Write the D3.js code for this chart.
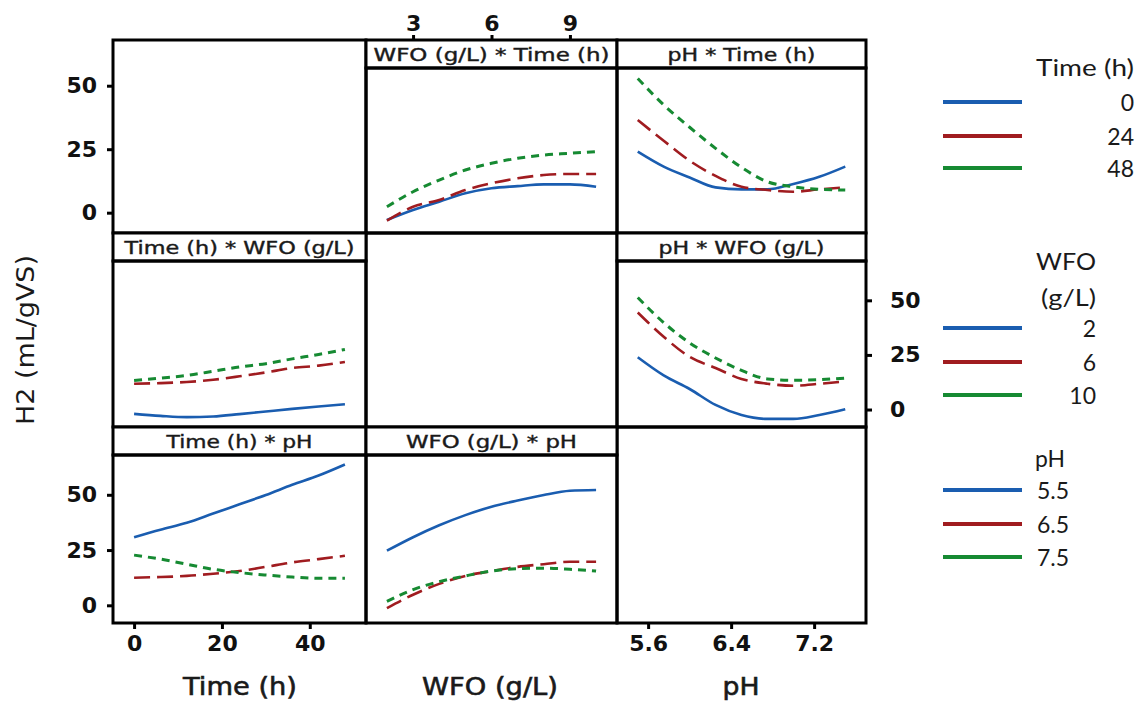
<!DOCTYPE html>
<html><head><meta charset="utf-8">
<script src="https://cdn.jsdelivr.net/npm/d3@7"></script>
<style>body{margin:0;background:#fff}svg{display:block}</style>
</head><body>
<svg id="c" width="1143" height="706"></svg>
<script>
// ---- data ----
const timeLevels = ["0", "24", "48"];
const wfoLevels = ["2", "6", "10"];
const phLevels = ["5.5", "6.5", "7.5"];
const timeGrid = [0, 6, 12, 18, 24, 30, 36, 42, 48];
const wfoGrid = [2, 3, 4, 5, 6, 7, 8, 9, 10];
const phGrid = [5.5, 5.75, 6, 6.25, 6.5, 6.75, 7, 7.25, 7.5];

const wfoTime_t0  = [-2.0, 2.6, 6.4, 10.3, 12.6, 13.6, 14.4, 14.4, 13.3];
const wfoTime_t24 = [-2.3, 4.1, 7.2, 11.8, 14.9, 17.2, 18.7, 19.2, 19.2];
const wfoTime_t48 = [4.1, 11.0, 16.4, 21.0, 24.1, 26.4, 27.9, 28.7, 29.5];
const phTime_t0  = [29.5, 22.6, 17.6, 13.0, 12.1, 12.1, 14.6, 17.9, 22.6];
const phTime_t24 = [44.0, 34.5, 25.3, 18.3, 13.3, 11.8, 11.0, 12.1, 13.0];
const phTime_t48 = [63.2, 51.0, 40.7, 31.0, 22.2, 15.6, 13.3, 12.1, 11.8];
const timeWfo_w2  = [-2.0, -2.9, -3.5, -3.2, -2.1, -0.9, 0.3, 1.4, 2.4];
const timeWfo_w6  = [11.8, 12.1, 12.6, 13.6, 15.2, 17.0, 19.0, 20.1, 21.8];
const timeWfo_w10 = [13.3, 14.4, 15.6, 17.5, 19.5, 21.0, 23.2, 25.2, 27.5];
const phWfo_w2  = [23.9, 15.6, 9.4, 2.1, -2.5, -4.3, -4.3, -2.5, 0.1];
const phWfo_w6  = [44.4, 33.3, 24.1, 19.0, 14.0, 11.8, 10.9, 11.8, 12.9];
const phWfo_w10 = [51.3, 39.8, 30.5, 23.6, 17.9, 14.0, 13.4, 13.7, 14.4];
const timePh_p55 = [30.8, 34.2, 37.3, 41.5, 45.7, 49.9, 54.5, 58.7, 63.7];
const timePh_p65 = [12.5, 12.8, 13.3, 14.3, 15.5, 17.4, 19.4, 20.9, 22.4];
const timePh_p75 = [22.7, 20.9, 18.6, 16.3, 14.8, 13.7, 12.8, 12.2, 12.2];
const wfoPh_p55 = [24.7, 30.8, 36.2, 40.8, 44.6, 47.4, 49.9, 51.8, 52.2];
const wfoPh_p65 = [-1.3, 4.8, 9.7, 13.3, 15.5, 17.4, 18.6, 19.7, 19.7];
const wfoPh_p75 = [1.8, 7.1, 10.7, 13.3, 15.5, 16.6, 16.8, 16.3, 15.5];

const yTicks = [0, 25, 50];
const timeTicks = [0, 20, 40];
const wfoTicks = [3, 6, 9];
const phTicks = [5.6, 6.4, 7.2];

// ---- layout ----
const svg = d3.select("#c");
const colors = ["#1a5db0", "#a01c20", "#168a32"];
const dashes = [null, "16,7", "8,6"];
const widths = [2.6, 2.6, 3];
const cols = [[113, 366], [366, 617], [617, 866]];
const rows = [[40, 233], [233, 427], [427, 623]];
const stripH = 28;
const yDom = [-8, 68];
const xDoms = [[-4.8, 52.8], [1.2, 10.8], [5.3, 7.7]];
const grids = [timeGrid, wfoGrid, phGrid];

const panels = [
  {r:0, c:1, title:"WFO (g/L) * Time (h)", tl:236, series:[wfoTime_t0, wfoTime_t24, wfoTime_t48]},
  {r:0, c:2, title:"pH * Time (h)", tl:148, series:[phTime_t0, phTime_t24, phTime_t48]},
  {r:1, c:0, title:"Time (h) * WFO (g/L)", tl:230, series:[timeWfo_w2, timeWfo_w6, timeWfo_w10]},
  {r:1, c:2, title:"pH * WFO (g/L)", tl:166, series:[phWfo_w2, phWfo_w6, phWfo_w10]},
  {r:2, c:0, title:"Time (h) * pH", tl:146, series:[timePh_p55, timePh_p65, timePh_p75]},
  {r:2, c:1, title:"WFO (g/L) * pH", tl:171, series:[wfoPh_p55, wfoPh_p65, wfoPh_p75]}
];

function xScale(c){ return d3.scaleLinear().domain(xDoms[c]).range(cols[c]); }
function yScale(r, strip){ return d3.scaleLinear().domain(yDom).range([rows[r][1], rows[r][0] + (strip ? stripH : 0)]); }

// empty diagonal cells
[0,1,2].forEach(i => {
  svg.append("rect").attr("x", cols[i][0]).attr("y", rows[i][0])
    .attr("width", cols[i][1]-cols[i][0]).attr("height", rows[i][1]-rows[i][0])
    .attr("fill", "none").attr("stroke", "#000").attr("stroke-width", 3);
});

panels.forEach(p => {
  const x = xScale(p.c), y = yScale(p.r, true);
  const x0 = cols[p.c][0], x1 = cols[p.c][1], y0 = rows[p.r][0], y1 = rows[p.r][1];
  const g = svg.append("g");
  g.append("rect").attr("x", x0).attr("y", y0).attr("width", x1-x0).attr("height", stripH)
    .attr("fill", "#fff").attr("stroke", "#000").attr("stroke-width", 3);
  g.append("rect").attr("x", x0).attr("y", y0+stripH).attr("width", x1-x0).attr("height", y1-y0-stripH)
    .attr("fill", "none").attr("stroke", "#000").attr("stroke-width", 3);
  g.append("text").attr("x", (x0+x1)/2).attr("y", y0 + stripH/2 + 1)
    .attr("text-anchor", "middle").attr("dominant-baseline", "central")
    .attr("font-family", "DejaVu Sans").attr("font-size", 17)
    .attr("textLength", p.tl).attr("lengthAdjust", "spacingAndGlyphs")
    .attr("fill", "#1a1a1a").attr("stroke", "#1a1a1a").attr("stroke-width", 0.4).text(p.title);
  const line = d3.line().x((d,i) => x(grids[p.c][i])).y(d => y(d)).curve(d3.curveMonotoneX);
  p.series.forEach((s, k) => {
    g.append("path").attr("d", line(s)).attr("fill", "none")
      .attr("stroke", colors[k]).attr("stroke-width", widths[k])
      .attr("stroke-dasharray", dashes[k]);
  });
});

function styleAxis(sel){
  sel.select(".domain").remove();
  sel.selectAll(".tick line").attr("stroke", "#000").attr("stroke-width", 3);
  sel.selectAll(".tick text").attr("font-family", "DejaVu Sans").attr("font-weight", "bold")
    .attr("font-size", 22).attr("fill", "#111");
}
// left axes rows 0 and 2
svg.append("g").attr("transform", "translate(113,0)")
  .call(d3.axisLeft(yScale(0, false)).tickValues(yTicks).tickSize(6).tickPadding(10)).call(styleAxis);
svg.append("g").attr("transform", "translate(113,0)")
  .call(d3.axisLeft(yScale(2, true)).tickValues(yTicks).tickSize(6).tickPadding(10)).call(styleAxis);
// right axis row 1
svg.append("g").attr("transform", "translate(866,0)")
  .call(d3.axisRight(yScale(1, true)).tickValues(yTicks).tickSize(6).tickPadding(18)).call(styleAxis);
// top axis col 1
svg.append("g").attr("transform", "translate(0,40)")
  .call(d3.axisTop(xScale(1)).tickValues(wfoTicks).tickSize(5).tickPadding(4)).call(styleAxis);
// bottom axes col 0 and col 2
svg.append("g").attr("transform", "translate(0,623)")
  .call(d3.axisBottom(xScale(0)).tickValues(timeTicks).tickSize(6).tickPadding(6)).call(styleAxis);
svg.append("g").attr("transform", "translate(0,623)")
  .call(d3.axisBottom(xScale(2)).tickValues(phTicks).tickFormat(d3.format(".1f")).tickSize(6).tickPadding(6)).call(styleAxis);

// axis titles
const titles = [["Time (h)", 240, 114], ["WFO (g/L)", 490, 136], ["pH", 741, 37]];
titles.forEach(t => {
  svg.append("text").attr("x", t[1]).attr("y", 695).attr("text-anchor", "middle")
    .attr("font-family", "DejaVu Sans").attr("font-size", 25)
    .attr("textLength", t[2]).attr("lengthAdjust", "spacingAndGlyphs")
    .attr("fill", "#1a1a1a").attr("stroke", "#1a1a1a").attr("stroke-width", 0.6).text(t[0]);
});
svg.append("text").attr("transform", "translate(34,340) rotate(-90)").attr("text-anchor", "middle")
  .attr("font-family", "DejaVu Sans").attr("font-size", 24)
  .attr("textLength", 170).attr("lengthAdjust", "spacingAndGlyphs")
  .attr("fill", "#1a1a1a").text("H2 (mL/gVS)");

// legends
const lf = "Lato";
function legendText(x, y, txt, anchor, tl){
  const t = svg.append("text").attr("x", x).attr("y", y).attr("text-anchor", anchor)
    .attr("dominant-baseline", "central").attr("font-family", lf).attr("font-size", 23)
    .attr("fill", "#1a1a1a").text(txt);
  if (tl) t.attr("textLength", tl).attr("lengthAdjust", "spacingAndGlyphs");
}
function legendLines(ys){
  ys.forEach((yy, k) => {
    svg.append("line").attr("x1", 943).attr("x2", 1022).attr("y1", yy).attr("y2", yy)
      .attr("stroke", colors[k]).attr("stroke-width", 4);
  });
}
legendText(1134, 67, "Time (h)", "end", 98);
const l1 = [102, 136, 168];
legendLines(l1);
timeLevels.forEach((t, k) => legendText(1134, l1[k], t, "end"));

legendText(1096, 261, "WFO", "end", 60);
legendText(1096, 297, "(g/L)", "end", 55);
const l2 = [328, 362, 395];
legendLines(l2);
wfoLevels.forEach((t, k) => legendText(1096, l2[k], t, "end"));

legendText(1035, 458, "pH", "start", 30);
const l3 = [490, 524, 557];
legendLines(l3);
phLevels.forEach((t, k) => legendText(1037, l3[k], t, "start"));
</script>
</body></html>
